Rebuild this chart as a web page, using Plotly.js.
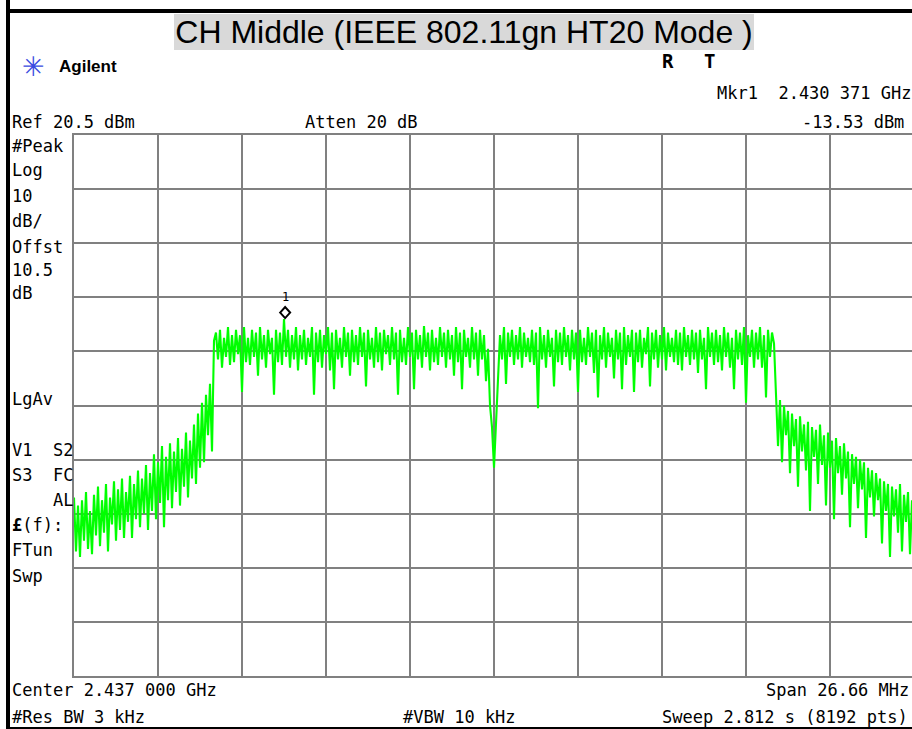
<!DOCTYPE html>
<html>
<head>
<meta charset="utf-8">
<script src="https://cdn.plot.ly/plotly-3.0.1.min.js"></script>
<style>html,body{margin:0;padding:0;background:#fff;}#chart{width:912px;height:729px;}</style>
</head>
<body>
<div id="chart"></div>
<script>
// ---- instrument settings ----
const centerFreqGHz = 2.437;
const spanGHz = 0.02666;
const refLevelDbm = 20.5;
const dbPerDiv = 10;
const pointsPerSpan = 420;          // plotted sample points over the full span
const mkrFreqGHz = 2.430371;
const mkrLevelDbm = -13.53;

// ---- trace levels (dBm), left to right ----
const leftSkirt = [
  -46.5, -56.5, -48, -57.5, -47, -54.5, -45.5, -56, -49, -57,
  -46, -53.5, -44.5, -55.5, -47, -53, -44, -56.5, -46.5, -51.5,
  -43.5, -54.5, -45, -52.5, -43, -54, -45.5, -51, -42.5, -54,
  -44, -50.5, -41.5, -52, -43, -49.5, -40.5, -52.5, -42, -49,
  -38.5, -50.5, -40, -47.5, -37, -52, -39, -47, -36.5, -48.5,
  -38, -45.5, -35.5, -48, -37.5, -44.5, -34.5, -46.5, -36, -43,
  -33, -44, -31, -41, -29, -40, -27.5, -35, -25.5, -38
];
const riseEdge = [-17.5];
const plateauLeft = [
  -16, -21, -15.5, -22.5, -17, -20.5, -15, -22, -16.5, -21.5,
  -15.5, -20, -16.5, -27, -15, -21.5, -17, -22, -15.5, -20.5,
  -16, -24, -15, -21, -16.5, -22.5, -15.5, -20, -17, -27.5,
  -15.5, -21.5, -16, -22, -13.5, -20.5, -15.5, -22.5, -16.5, -21,
  -15, -23, -16.5, -21, -15.5, -22, -17, -20.5, -15, -27.5,
  -16, -21.5, -15.5, -22.5, -16.5, -20, -15, -23, -16, -26.5,
  -15.5, -21, -17, -22.5, -15, -20.5, -16, -24, -15.5, -21.5,
  -16.5, -22, -15, -20.5, -16, -26, -15.5, -21, -17, -22.5,
  -15, -21.5, -16, -23, -15.5, -20, -16.5, -22, -15, -21,
  -16, -27.5, -15.5, -21.5, -17, -22, -15, -20.5, -16, -26.5,
  -15.5, -21, -16.5, -22.5, -14.8, -20.5, -16, -23, -15.5, -21.5,
  -17, -22, -15, -20.5, -16, -22.5, -15.5, -21, -16.5, -24,
  -15, -21.5, -16, -26.5, -15.5, -20.5, -17, -22.5, -15, -21,
  -16, -24, -15.5, -21, -16.5, -25, -19, -29.5, -33.5, -41
];
const plateauRight = [
  -32, -26, -16.5, -21, -15, -25.5, -16, -20.5, -15.5, -22,
  -16.5, -21, -15, -22.5, -16, -20.5, -17, -21.5, -15.5, -22,
  -16, -30, -15, -21, -16.5, -22.5, -15.5, -20.5, -17, -26,
  -15.5, -21.5, -16, -22, -15, -20.5, -16.5, -23, -15.5, -21,
  -16, -27, -15.5, -21.5, -17, -22, -15, -20.5, -16, -23.5,
  -15.5, -28, -16.5, -21, -15, -22.5, -16, -20.5, -17, -24.5,
  -15.5, -21, -16, -26.5, -15, -22, -16.5, -20.5, -15.5, -27,
  -16, -21.5, -15.5, -22.5, -17, -20, -15, -26, -16, -21,
  -15.5, -22.5, -16.5, -21, -15, -23, -16, -20.5, -17, -21.5,
  -15.5, -22, -16, -23, -15, -20.5, -16.5, -22, -15.5, -21,
  -16, -23.5, -15.5, -21, -17, -26.5, -15, -20.5, -16, -22,
  -15.5, -21.5, -16.5, -23, -15, -20.5, -16, -22.5, -17, -26.5,
  -15.5, -21, -16, -22, -15, -29, -16.5, -20.5, -15.5, -22.5,
  -16, -21, -15, -22.5, -16.5, -28, -15.5, -20.5, -16, -18
];
const rightSkirt = [
  -27, -37, -28.5, -40, -29.5, -35, -30.5, -42, -31, -37,
  -32, -44.5, -31.5, -38, -33, -41.5, -32.5, -49, -33.5, -39,
  -34, -44, -33, -40.5, -35, -48, -34.5, -41, -36, -50.5,
  -35.5, -42, -37, -46, -36.5, -43, -38, -52, -38.5, -44,
  -39, -48.5, -39.5, -45, -40, -54, -41, -46.5, -41.5, -50,
  -42, -47, -43, -55, -43.5, -49, -44, -57.5, -44.5, -50,
  -45, -53, -44, -56.5, -46, -51, -45.5, -57, -47
];

const traceDbm = [].concat(leftSkirt, riseEdge, plateauLeft, plateauRight, rightSkirt);
const startFreqGHz = centerFreqGHz - spanGHz / 2;
const stepGHz = spanGHz / pointsPerSpan;
const traceFreq = traceDbm.map((_, i) => startFreqGHz + i * stepGHz);

// ---- screen labels ----
const leftLabels = [
  ['#Peak', 145.5], ['Log', 170], ['10', 196], ['dB/', 221], ['Offst', 247],
  ['10.5', 270], ['dB', 293], ['LgAv', 399], ['V1\u00a0\u00a0S2', 450],
  ['S3\u00a0\u00a0FC', 475], ['\u00a0\u00a0\u00a0\u00a0AL', 500],
  ['<b>£</b>(f):', 525], ['FTun', 550], ['Swp', 576]
];

// ---- layout geometry (pixels) ----
const W = 912, H = 729, L = 74, T = 135, B = 676, R = 912;
const pw = R - L, ph = B - T;
const px = x => (x - L) / pw;
const py = y => (B - y) / ph;

const mono = 'DejaVu Sans Mono, Liberation Mono, monospace';
const sans = 'Liberation Sans, Arial, sans-serif';

function txt(text, x, y, anchor, size, family, color) {
  return {
    text: text, xref: 'paper', yref: 'paper', x: px(x), y: py(y),
    xanchor: anchor || 'left', yanchor: 'middle', showarrow: false,
    font: {family: family || mono, size: size || 17, color: color || '#000'},
    borderpad: 0
  };
}

const annotations = [];
leftLabels.forEach(l => annotations.push(txt(l[0], 11, l[1])));
annotations.push(txt('Ref 20.5 dBm', 11, 122));
annotations.push(txt('Atten 20 dB', 304, 122));
annotations.push(txt('Mkr1\u00a0\u00a02.430 371 GHz', 716, 93));
annotations.push(txt('-13.53 dBm', 905, 122, 'right'));
annotations.push(txt('Center 2.437 000 GHz', 11, 690));
annotations.push(txt('Span 26.66 MHz', 910, 690, 'right'));
annotations.push(txt('#Res BW 3 kHz', 11, 717));
annotations.push(txt('#VBW 10 kHz', 402, 717));
annotations.push(txt('Sweep 2.812 s (8192 pts)', 909, 717, 'right'));
annotations.push(txt('<b>Agilent</b>', 58, 67, 'left', 17, sans));
annotations.push(txt('<b>R</b>', 661, 61, 'left', 19, mono));
annotations.push(txt('<b>T</b>', 703, 61, 'left', 19, mono));
annotations.push(txt('✳', 33, 67, 'center', 27, 'DejaVu Sans', '#3a4be0'));
// marker 1 label
annotations.push({x: mkrFreqGHz, y: mkrLevelDbm, xref: 'x', yref: 'y', text: '1', showarrow: false,
  yshift: 22, font: {family: mono, size: 12, color: '#000'}});

const shapes = [
  {type: 'rect', xref: 'paper', yref: 'paper', x0: px(174), x1: px(754), y0: py(50), y1: py(14),
   fillcolor: '#d9d9d9', line: {width: 0}, layer: 'below'},
  {type: 'rect', xref: 'paper', yref: 'paper', x0: px(6), x1: px(10), y0: py(H), y1: py(0),
   fillcolor: '#000', line: {width: 0}},
  {type: 'rect', xref: 'paper', yref: 'paper', x0: px(6), x1: px(W), y0: py(13), y1: py(9),
   fillcolor: '#000', line: {width: 0}},
  {type: 'rect', xref: 'paper', yref: 'paper', x0: px(6), x1: px(W), y0: py(729), y1: py(727),
   fillcolor: '#000', line: {width: 0}},
  // marker diamond, anchored at the marker's frequency/level, sized in pixels
  {type: 'path', xref: 'x', yref: 'y', xsizemode: 'pixel', ysizemode: 'pixel',
   xanchor: mkrFreqGHz, yanchor: mkrLevelDbm, path: 'M -5 6.5 L 0 12 L 5 6.5 L 0 1 Z',
   line: {color: '#000', width: 2}, fillcolor: 'rgba(0,0,0,0)'}
];

const data = [{
  type: 'scatter', mode: 'lines', x: traceFreq, y: traceDbm,
  line: {color: '#00ff00', width: 2.1}, hoverinfo: 'skip', showlegend: false
}];

const layout = {
  width: W, height: H,
  margin: {l: L, r: W - R, t: T, b: H - B, pad: 0},
  paper_bgcolor: '#fff', plot_bgcolor: '#fff',
  title: {text: 'CH Middle (IEEE 802.11gn HT20 Mode )', xref: 'container', yref: 'container',
    x: 464 / W, xanchor: 'center', y: 1 - 32 / H, yanchor: 'middle',
    font: {family: sans, size: 32, color: '#000'}},
  xaxis: {range: [startFreqGHz, startFreqGHz + spanGHz * pw / 840], tick0: startFreqGHz, dtick: spanGHz / 10,
    showticklabels: false, ticks: '', showgrid: true, gridcolor: '#808080', gridwidth: 2,
    zeroline: false, showline: true, mirror: true, linecolor: '#808080', linewidth: 2, fixedrange: true},
  yaxis: {range: [refLevelDbm - 10 * dbPerDiv, refLevelDbm], tick0: refLevelDbm, dtick: dbPerDiv,
    showticklabels: false, ticks: '', showgrid: true, gridcolor: '#808080', gridwidth: 2,
    zeroline: false, showline: true, mirror: false, linecolor: '#808080', linewidth: 2, fixedrange: true},
  annotations: annotations,
  shapes: shapes,
  showlegend: false
};

Plotly.newPlot('chart', data, layout, {displayModeBar: false, staticPlot: true});
</script>
</body>
</html>
